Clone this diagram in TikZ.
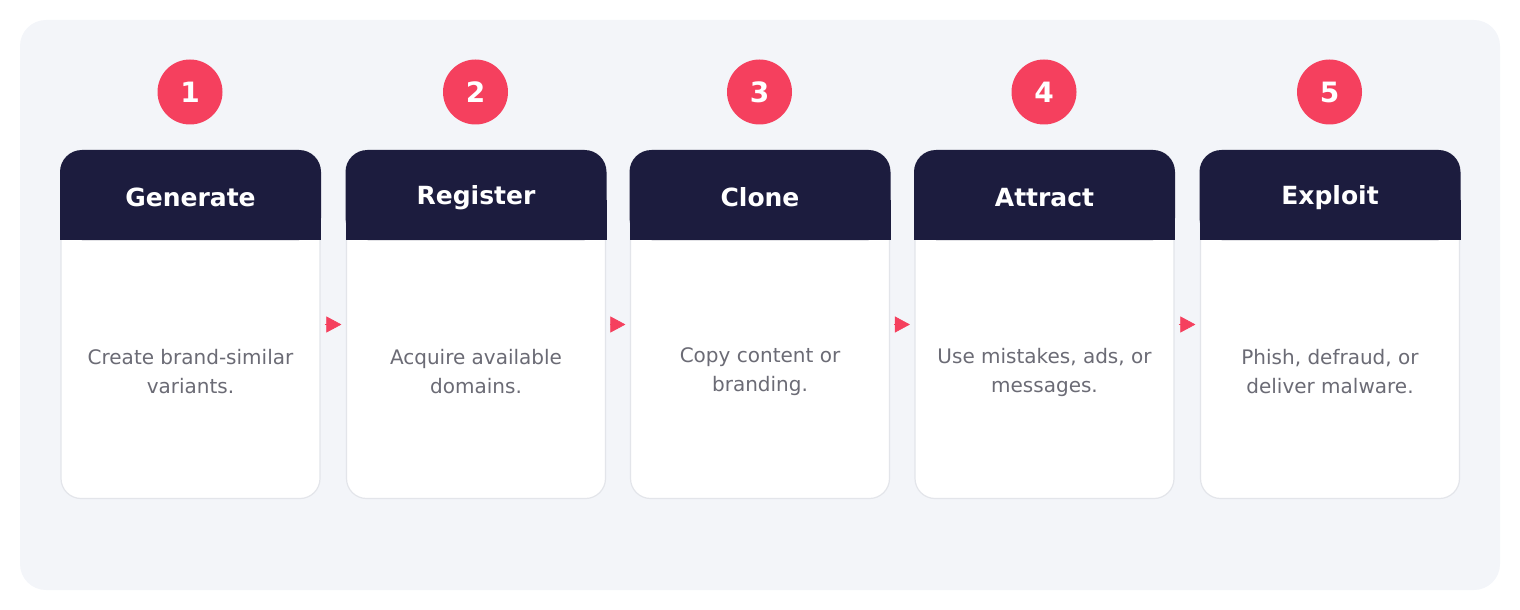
\documentclass[tikz,border=0pt]{standalone}
\usepackage{fontspec}
\setmainfont{DejaVu Sans}
\usetikzlibrary{arrows.meta,positioning}
\definecolor{bgpanel}{HTML}{F3F5F9}
\definecolor{navy}{HTML}{1C1C3E}
\definecolor{accent}{HTML}{F5405E}
\definecolor{bodytxt}{HTML}{6B6B75}
\definecolor{cardline}{HTML}{E3E5EA}
\tikzset{
  cardbox/.style={draw=cardline, line width=1.2bp, fill=white, rounded corners=20bp,
    minimum width=259bp, minimum height=348bp, inner sep=0pt},
  badge/.style={circle, fill=accent, minimum size=65bp, inner sep=0pt, text=white,
    font=\fontsize{28bp}{32bp}\selectfont\bfseries},
  headtxt/.style={text=white, font=\fontsize{25bp}{30bp}\selectfont\bfseries, inner sep=0pt},
  bodytext/.style={text=bodytxt, align=center, font=\fontsize{20bp}{29bp}\selectfont, inner sep=0pt},
  flowarrow/.style={draw=accent, line width=0.6bp, shorten <=4bp, shorten >=4.5bp,
    -{Triangle[length=15bp,width=16bp]}, accent},
}
\begin{document}
\begin{tikzpicture}[x=1bp,y=-1bp]
\useasboundingbox (0,0) rectangle (1520,610);
\fill[bgpanel, rounded corners=26bp] (20,20) rectangle (1500,590);
\foreach \i/\cx/\hdtext/\bdtext in {1/190.5/Generate/{Create brand-similar\\variants.},
                            2/476/Register/{Acquire available\\domains.},
                            3/760/Clone/{Copy content or\\branding.},
                            4/1044.5/Attract/{Use mistakes, ads, or\\messages.},
                            5/1330/Exploit/{Phish, defraud, or\\deliver malware.}}{
  \node[cardbox] (card\i) at (\cx,324.5) {};
  \fill[navy, rounded corners=22bp] (\cx-130.5,150) rectangle (\cx+130.5,240);
  \fill[navy] (\cx-130.5,200) rectangle (\cx+130.5,240);
  \node[headtxt] (head\i) at (\cx,197.5) {\hdtext};
  \node[bodytext] (body\i) at (\cx,372) {\bdtext};
  \node[badge] (badge\i) at (\cx-0.5,92) {\i};
}
\foreach \a/\b in {1/2,2/3,3/4,4/5}{
  \path[flowarrow] (card\a.east) -- (card\b.west);
}
\end{tikzpicture}
\end{document}
